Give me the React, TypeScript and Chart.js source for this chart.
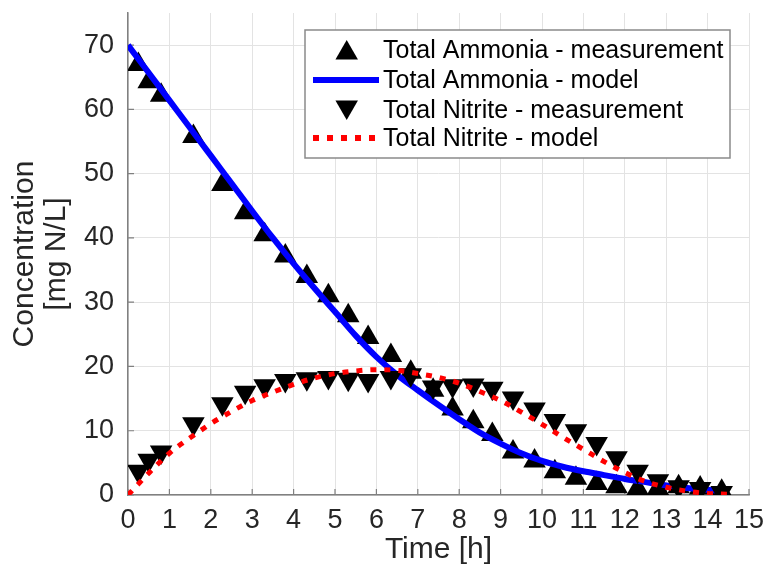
import React, { useEffect, useRef } from "react";
import { Chart, registerables } from "chart.js";

Chart.register(...registerables);

// ---- data ----
const measTimes = [0.25, 0.5, 0.8, 1.58, 2.28, 2.83, 3.3, 3.8, 4.32, 4.84, 5.32, 5.8, 6.35, 6.83, 7.37, 7.84, 8.34, 8.8, 9.3, 9.82, 10.31, 10.82, 11.32, 11.8, 12.31, 12.8, 13.3, 13.82, 14.34];
const ammoniaMeas = [67, 64.3, 62.2, 55.8, 48.3, 43.9, 40.5, 37.2, 34, 31, 27.9, 24.5, 21.7, 19.1, 16.3, 13.4, 11.4, 9.4, 6.7, 5.3, 3.6, 2.6, 1.8, 1.3, 1.0, 1.0, 1.3, 1.1, 0.6];
const nitriteMeas = [3.7, 5.4, 6.7, 11.1, 14.2, 16, 17, 17.8, 18.1, 18.3, 18, 17.8, 18.3, 18.7, 16.8, 17, 17.1, 16.6, 15.1, 13.4, 11.6, 10, 8, 5.8, 3.7, 2.2, 1.3, 1.0, 0.4];

const modelTimes = [0, 0.5, 1, 1.5, 2, 2.5, 3, 3.5, 4, 4.5, 5, 5.5, 6, 6.5, 7, 7.5, 8, 8.5, 9, 9.5, 10, 10.5, 11, 11.5, 12, 12.5, 13, 13.5, 14, 14.5];
const ammoniaModel = [70, 65.7, 61.4, 57.1, 52.8, 48.5, 44.2, 40, 36, 32.2, 28.5, 24.8, 21.5, 18.7, 16.3, 14, 11.8, 9.7, 8, 6.5, 5.3, 4.4, 3.7, 3.1, 2.5, 2, 1.5, 1.1, 0.8, 0.6];
const nitriteModel = [0, 3.4, 6.5, 8.9, 11.1, 13, 14.7, 16, 17.2, 18.2, 18.9, 19.3, 19.5, 19.4, 18.9, 18.3, 17.4, 16.1, 14.7, 12.9, 11, 9, 7.1, 5.2, 3.5, 2.1, 1.2, 0.6, 0.25, 0.1];

const xTicks = [0, 1, 2, 3, 4, 5, 6, 7, 8, 9, 10, 11, 12, 13, 14, 15];
const yTicks = [0, 10, 20, 30, 40, 50, 60, 70];

const legendLabels = [
  "Total Ammonia - measurement",
  "Total Ammonia - model",
  "Total Nitrite - measurement",
  "Total Nitrite - model",
];

const FONT = "'Liberation Sans', Arial, Helvetica, sans-serif";
const TEXT = "#262626";
const MARKER_R = 13;

const legendPlugin = {
  id: "customLegend",
  afterDraw(chart: any) {
    const ctx = chart.ctx as CanvasRenderingContext2D;
    const bx = 305, by = 30, bw = 425, bh = 128;
    ctx.save();
    ctx.fillStyle = "#ffffff";
    ctx.fillRect(bx, by, bw, bh);
    ctx.strokeStyle = "#8a8a8a";
    ctx.lineWidth = 1.5;
    ctx.strokeRect(bx, by, bw, bh);
    const rows = [50, 80, 110, 138];
    const symX = 346.7;
    const r = MARKER_R;
    const tri = (cx: number, cy: number, down: boolean) => {
      ctx.beginPath();
      const s = down ? -1 : 1;
      ctx.moveTo(cx, cy - s * r);
      ctx.lineTo(cx + r * 0.866, cy + s * r * 0.5);
      ctx.lineTo(cx - r * 0.866, cy + s * r * 0.5);
      ctx.closePath();
      ctx.fillStyle = "#000";
      ctx.fill();
    };
    tri(symX, rows[0] + 3, false);
    tri(symX, rows[2] - 3, true);
    ctx.lineCap = "butt";
    ctx.strokeStyle = "#0000ff";
    ctx.lineWidth = 6;
    ctx.beginPath();
    ctx.moveTo(313, rows[1]);
    ctx.lineTo(379, rows[1]);
    ctx.stroke();
    ctx.strokeStyle = "#ff0000";
    ctx.setLineDash([6, 8]);
    ctx.beginPath();
    ctx.moveTo(313, rows[3]);
    ctx.lineTo(381, rows[3]);
    ctx.stroke();
    ctx.setLineDash([]);
    ctx.fillStyle = "#000";
    ctx.font = `25px ${FONT}`;
    ctx.textBaseline = "middle";
    ctx.textAlign = "left";
    legendLabels.forEach((l, i) => ctx.fillText(l, 383, rows[i] + 1));
    ctx.restore();
  },
};

const tickMarkPlugin = {
  id: "inwardTicks",
  beforeDatasetsDraw(chart: any) {
    const ctx = chart.ctx as CanvasRenderingContext2D;
    const xs = chart.scales.x;
    const ys = chart.scales.y;
    const { left, bottom } = chart.chartArea;
    ctx.save();
    ctx.strokeStyle = "#808080";
    ctx.lineWidth = 1.2;
    ctx.beginPath();
    xTicks.forEach((t) => {
      const px = xs.getPixelForValue(t);
      ctx.moveTo(px, bottom);
      ctx.lineTo(px, bottom - 6);
    });
    yTicks.forEach((t) => {
      const py = ys.getPixelForValue(t);
      ctx.moveTo(left, py);
      ctx.lineTo(left + 6, py);
    });
    ctx.stroke();
    ctx.restore();
  },
};

export default function App() {
  const ref = useRef<HTMLCanvasElement | null>(null);
  useEffect(() => {
    if (!ref.current) return;
    const chart = new Chart(ref.current, {
      type: "line",
      data: {
        datasets: [
          {
            label: legendLabels[0],
            data: measTimes.map((t, i) => ({ x: t, y: ammoniaMeas[i] })),
            showLine: false,
            pointStyle: "triangle",
            pointRadius: MARKER_R,
            pointBackgroundColor: "#000",
            pointBorderColor: "#000",
            pointBorderWidth: 0,
            order: 4,
          },
          {
            label: legendLabels[1],
            data: modelTimes.map((t, i) => ({ x: t, y: ammoniaModel[i] })),
            borderColor: "#0000ff",
            borderWidth: 6,
            pointRadius: 0,
            cubicInterpolationMode: "monotone",
            fill: false,
            order: 3,
          },
          {
            label: legendLabels[2],
            data: measTimes.map((t, i) => ({ x: t, y: nitriteMeas[i] })),
            showLine: false,
            pointStyle: "triangle",
            rotation: 180,
            pointRadius: MARKER_R,
            pointBackgroundColor: "#000",
            pointBorderColor: "#000",
            pointBorderWidth: 0,
            order: 2,
          },
          {
            label: legendLabels[3],
            data: modelTimes.map((t, i) => ({ x: t, y: nitriteModel[i] })),
            borderColor: "#ff0000",
            borderWidth: 5,
            borderDash: [6, 8],
            borderCapStyle: "butt",
            pointRadius: 0,
            cubicInterpolationMode: "monotone",
            fill: false,
            order: 1,
          },
        ],
      },
      options: {
        animation: false,
        responsive: false,
        devicePixelRatio: 1,
        layout: { padding: { left: 0, right: 16, top: 10, bottom: 0 } },
        plugins: {
          legend: { display: false },
          tooltip: { enabled: false },
        },
        scales: {
          x: {
            type: "linear",
            min: 0,
            max: 15,
            afterBuildTicks: (s: any) => {
              s.ticks = xTicks.map((v) => ({ value: v }));
            },
            afterFit: (s: any) => {
              s.height = 83;
              s.paddingLeft = 0;
              s.paddingRight = 0;
            },
            grid: { color: "#e3e3e3", lineWidth: 1, drawTicks: false },
            border: { color: "#808080", width: 1.5 },
            ticks: {
              color: TEXT,
              font: { family: FONT, size: 27 },
              padding: 9,
              maxRotation: 0,
              autoSkip: false,
            },
            title: {
              display: true,
              text: "Time [h]",
              color: TEXT,
              font: { family: FONT, size: 30, lineHeight: 1.2 },
              padding: { top: 0, bottom: 10 },
            },
          },
          y: {
            type: "linear",
            min: 0,
            max: 75,
            afterBuildTicks: (s: any) => {
              s.ticks = yTicks.map((v) => ({ value: v }));
            },
            afterFit: (s: any) => {
              s.width = 128;
              s.paddingTop = 0;
              s.paddingBottom = 0;
            },
            grid: { color: "#e3e3e3", lineWidth: 1, drawTicks: false },
            border: { color: "#808080", width: 1.5 },
            ticks: {
              color: TEXT,
              font: { family: FONT, size: 27 },
              padding: 14,
            },
            title: {
              display: true,
              text: ["Concentration", "[mg N/L]"],
              color: TEXT,
              font: { family: FONT, size: 30, lineHeight: 1.05 },
              padding: { top: 9, bottom: 0 },
            },
          },
        },
      },
      plugins: [tickMarkPlugin, legendPlugin],
    } as any);
    return () => chart.destroy();
  }, []);

  return (
    <div style={{ position: "fixed", left: 0, top: 0, width: 765, height: 578, background: "#fff" }}>
      <canvas ref={ref} width={765} height={578} style={{ display: "block" }} />
    </div>
  );
}
